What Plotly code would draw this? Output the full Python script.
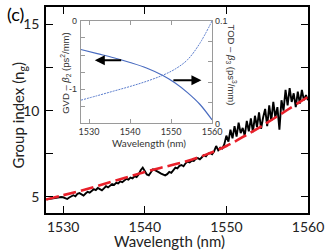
import plotly.graph_objects as go

# ---------------- data ----------------
# measured group index (black)
wl_meas = [1528.0 + 0.25 * i for i in range(129)]
ng_meas = [
    4.86, 4.88, 4.90, 4.93, 4.92, 4.96, 4.95, 5.00, 4.98, 4.92, 4.88, 4.97, 5.05, 5.10, 5.04, 5.18,
    5.22, 5.15, 5.08, 5.20, 5.30, 5.25, 5.38, 5.45, 5.40, 5.52, 5.45, 5.38, 5.50, 5.62, 5.55, 5.68,
    5.75, 5.70, 5.82, 5.78, 5.90, 5.85, 5.98, 6.05, 6.00, 6.12, 6.08, 6.20, 6.15, 6.30, 6.55, 6.70,
    6.50, 6.30, 6.25, 6.45, 6.60, 6.55, 6.50, 6.42, 6.35, 6.28, 6.25, 6.32, 6.45, 6.40, 6.58, 6.70,
    6.65, 6.80, 6.85, 6.78, 6.95, 7.05, 7.00, 7.10, 7.08, 7.20, 7.25, 7.18, 7.30, 7.42, 7.35, 7.50,
    7.55, 7.48, 7.65, 7.95, 7.70, 7.85, 7.80, 8.05, 8.55, 8.20, 8.90, 8.40, 9.10, 8.50, 9.30, 8.70,
    9.00, 8.55, 9.40, 8.80, 9.55, 8.75, 9.70, 9.05, 9.90, 8.95, 9.60, 10.10, 9.10, 10.30, 9.40, 10.50,
    9.60, 10.20, 8.90, 10.60, 10.00, 11.20, 10.30, 11.30, 10.50, 11.00, 10.20, 11.10, 10.40, 11.20, 10.60, 10.90,
    10.60,
]

# fitted group index (red dashed)
wl_fit = [1527.9, 1530.0, 1532.5, 1535.0, 1537.5, 1540.0, 1542.5, 1545.0, 1547.5, 1550.0, 1552.5, 1555.0, 1557.5, 1560.0]
ng_fit = [4.85, 5.10, 5.40, 5.75, 6.10, 6.45, 6.75, 7.05, 7.45, 7.95, 8.60, 9.30, 10.05, 10.80]

# inset: GVD (beta2) and TOD (beta3)
wl_inset = [1528.0, 1532.0, 1536.0, 1540.0, 1544.0, 1548.0, 1551.0, 1554.0, 1557.0, 1560.0]
beta2 = [-0.42, -0.48, -0.54, -0.61, -0.69, -0.80, -0.91, -1.05, -1.22, -1.45]
beta3 = [0.0226, 0.027, 0.0315, 0.036, 0.041, 0.047, 0.053, 0.062, 0.078, 0.100]

# arrows (wavelength tail, wavelength head, GVD-axis level)
arrow_left = [1538.2, 1531.4, -0.575]
arrow_right = [1550.2, 1557.4, -0.87]

x_ticks = [1530, 1540, 1550, 1560]
y_ticks = [5, 7.5, 10, 12.5, 15]
y_ticktext = ["5", " ", "10", " ", "15"]
inset_x_ticks = [1530, 1540, 1550, 1560]
gvd_ticks = [0, -0.25, -0.5, -0.75, -1.0, -1.25, -1.5]
gvd_text = ["0", " ", " ", " ", "-1", " ", " "]
tod_ticks = [0, 0.02, 0.04, 0.06, 0.08, 0.1]
tod_text = ["0", " ", " ", " ", " ", "0.1"]

# ---------------- figure ----------------
MAIN_FONT = "Lato"
INSET_FONT = "Liberation Sans, Arial"
GRAY = "#9a9a9a"

fig = go.Figure()
fig.add_trace(go.Scatter(x=wl_meas, y=ng_meas, mode="lines",
                         line=dict(color="black", width=1.9), showlegend=False))
fig.add_trace(go.Scatter(x=wl_fit, y=ng_fit, mode="lines", line_shape="spline",
                         line=dict(color="#e8202a", width=2.6, dash="13px,5px"), showlegend=False))

fig.add_trace(go.Scatter(x=wl_inset, y=beta2, mode="lines", line_shape="spline",
                         line=dict(color="#4a6cc0", width=1.2),
                         xaxis="x2", yaxis="y2", showlegend=False))
fig.add_trace(go.Scatter(x=wl_inset, y=beta3, mode="lines", line_shape="spline",
                         line=dict(color="#5a7ccc", width=1.0, dash="2px,1px"),
                         xaxis="x2", yaxis="y3", showlegend=False))

fig.update_layout(
    width=327, height=251,
    margin=dict(l=46, r=19, t=7, b=38, autoexpand=False),
    paper_bgcolor="white", plot_bgcolor="white",
    xaxis=dict(domain=[0, 1], range=[1527.9, 1560], tickvals=x_ticks, automargin=False,
               ticks="inside", ticklen=7, tickwidth=1.3, tickcolor="black",
               showline=True, linecolor="black", linewidth=1.6, mirror="ticks",
               showgrid=False, zeroline=False,
               tickfont=dict(family=MAIN_FONT, size=14, color="#222")),
    yaxis=dict(domain=[0, 1], range=[4.07, 16], tickvals=y_ticks, ticktext=y_ticktext,
               automargin=False,
               ticks="inside", ticklen=7, tickwidth=1.3, tickcolor="black",
               showline=True, linecolor="black", linewidth=1.6, mirror="ticks",
               showgrid=False, zeroline=False, ticklabelstandoff=2,
               tickfont=dict(family=MAIN_FONT, size=14, color="#222")),
    xaxis2=dict(domain=[0.133, 0.634], anchor="y2", range=[1528, 1560], tickvals=inset_x_ticks,
                automargin=False,
                ticks="inside", ticklen=4, tickwidth=1, tickcolor=GRAY,
                showline=True, linecolor=GRAY, linewidth=1, mirror="ticks",
                showgrid=False, zeroline=False, ticklabelstandoff=0,
                tickfont=dict(family=MAIN_FONT, size=9, color="#333")),
    yaxis2=dict(domain=[0.435, 0.933], anchor="x2", range=[-1.5, 0], tickvals=gvd_ticks,
                ticktext=gvd_text, automargin=False,
                ticks="inside", ticklen=4, tickwidth=1, tickcolor=GRAY,
                showline=True, linecolor=GRAY, linewidth=1, mirror=True,
                showgrid=False, zeroline=False, ticklabelstandoff=1,
                tickfont=dict(family=INSET_FONT, size=9, color="#333")),
    yaxis3=dict(overlaying="y2", anchor="x2", side="right", range=[0, 0.1], tickvals=tod_ticks,
                ticktext=tod_text, automargin=False,
                ticks="inside", ticklen=4, tickwidth=1, tickcolor=GRAY,
                showline=True, linecolor=GRAY, linewidth=1,
                showgrid=False, zeroline=False, ticklabelstandoff=0,
                tickfont=dict(family=INSET_FONT, size=9, color="#333")),
)

C = dict(xanchor="center", yanchor="middle", showarrow=False, xref="paper", yref="paper")
annotations = [
    dict(text="(c)", x=-0.118, y=0.966, font=dict(family=MAIN_FONT, size=18, color="black"), **C),
    dict(text="Wavelength (nm)", x=0.473, y=-0.137,
         font=dict(family=MAIN_FONT, size=15, color="#222"), **C),
    dict(text="Group index (n<sub>g</sub>)", x=-0.102, y=0.475, textangle=-90,
         font=dict(family=MAIN_FONT, size=15, color="#222"), **C),
    dict(text="Wavelength (nm)", x=0.393, y=0.339,
         font=dict(family=MAIN_FONT, size=10, color="#333"), **C),
    dict(text="GVD – <i>β</i><sub>2</sub> (ps<sup>2</sup>/mm)", x=0.076, y=0.68, textangle=-90,
         font=dict(family=INSET_FONT, size=9.5, color="#333"), **C),
    dict(text="TOD – <i>β</i><sub>3</sub> (ps<sup>3</sup>/mm)", x=0.708, y=0.718, textangle=90,
         font=dict(family=INSET_FONT, size=9.5, color="#333"), **C),
    dict(x=arrow_left[1], y=arrow_left[2], ax=arrow_left[0], ay=arrow_left[2],
         xref="x2", yref="y2", axref="x2", ayref="y2", text="", showarrow=True,
         arrowhead=2, arrowsize=1, arrowwidth=2, arrowcolor="black"),
    dict(x=arrow_right[1], y=arrow_right[2], ax=arrow_right[0], ay=arrow_right[2],
         xref="x2", yref="y2", axref="x2", ayref="y2", text="", showarrow=True,
         arrowhead=2, arrowsize=1, arrowwidth=2, arrowcolor="black"),
]
fig.update_layout(annotations=annotations)

fig.write_html("out.html", config={"displayModeBar": False},
               post_script="document.body.style.margin='0';document.body.style.overflow='hidden';")
